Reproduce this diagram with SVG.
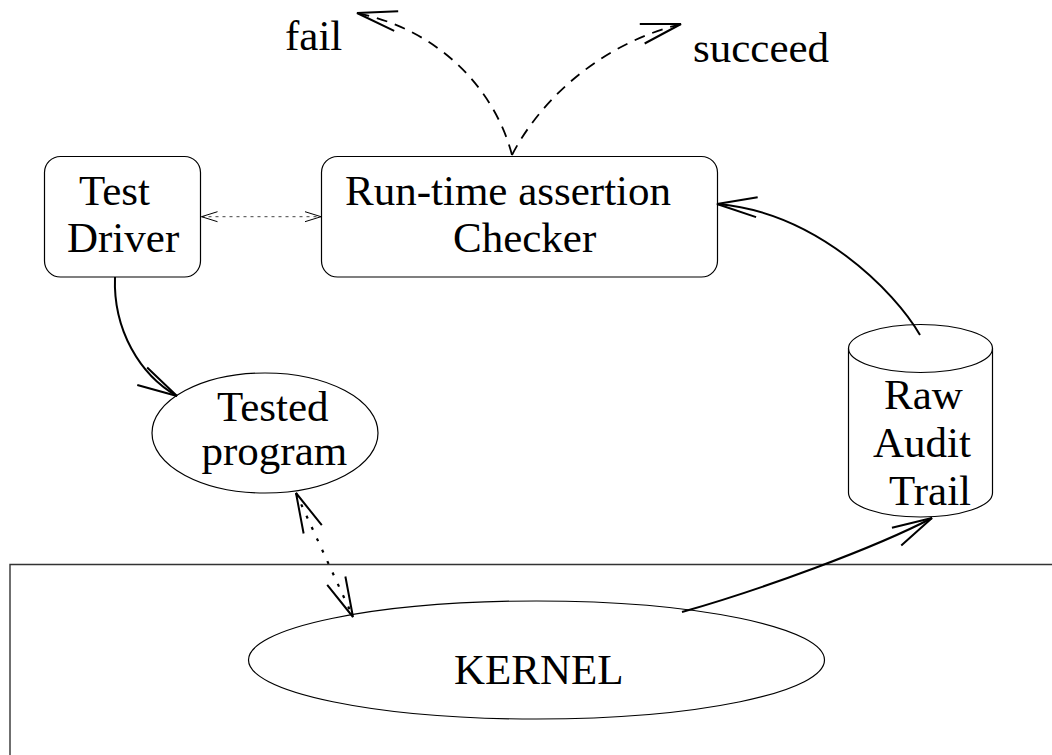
<svg xmlns="http://www.w3.org/2000/svg" width="1052" height="755" viewBox="0 0 1052 755">
  <style>
    .shape { fill: none; stroke: #000; stroke-width: 1.2; }
    .frame { fill: none; stroke: #333; stroke-width: 1.4; }
    .label { font-family: "Liberation Serif", "Times New Roman", serif; font-size: 43px; fill: #000; }
    .solid { fill: none; stroke: #000; stroke-width: 2; }
    .dashed { fill: none; stroke: #000; stroke-width: 1.8; stroke-dasharray: 11 8; }
    .dotted { fill: none; stroke: #000; stroke-width: 2.2; stroke-dasharray: 3 9.5; }
    .fine-dotted { fill: none; stroke: #444; stroke-width: 1; stroke-dasharray: 3 4; }
    .head { fill: none; stroke: #000; stroke-dasharray: none; }
  </style>
  <defs>
    <marker id="open-big" markerUnits="userSpaceOnUse" orient="auto-start-reverse" refX="0" refY="0" markerWidth="1" markerHeight="1" style="overflow:visible">
      <path class="head" stroke-width="2" d="M-40,-10 L0,0 L-40,10"/>
    </marker>
    <marker id="open-small" markerUnits="userSpaceOnUse" orient="auto-start-reverse" refX="0" refY="0" markerWidth="1" markerHeight="1" style="overflow:visible">
      <path class="head" stroke="#444" stroke-width="1" d="M-16,-5 L0,0 L-16,5"/>
    </marker>
  </defs>

  <!-- kernel space frame, open to the right and bottom -->
  <path class="frame" d="M1060,564.5 H10 V760"/>

  <g id="test-driver">
    <rect class="shape" x="44.5" y="156.5" width="156" height="120.5" rx="16"/>
    <text class="label" x="79" y="205">Test</text>
    <text class="label" x="67" y="251.5">Driver</text>
  </g>

  <g id="checker">
    <rect class="shape" x="321.5" y="156.5" width="396" height="120.5" rx="16"/>
    <text class="label" x="345" y="205">Run-time assertion</text>
    <text class="label" x="453" y="251.5">Checker</text>
  </g>

  <g id="tested-program">
    <ellipse class="shape" cx="265" cy="433" rx="113" ry="60"/>
    <text class="label" x="217" y="420.5">Tested</text>
    <text class="label" x="201.5" y="465">program</text>
  </g>

  <g id="audit-trail">
    <ellipse class="shape" cx="920.5" cy="348.5" rx="72" ry="24"/>
    <path class="shape" d="M848.5,348.5 V493 A72,24 0 0 0 992.5,493 V348.5"/>
    <text class="label" x="884" y="409">Raw</text>
    <text class="label" x="873" y="456.5">Audit</text>
    <text class="label" x="889" y="505">Trail</text>
  </g>

  <g id="kernel">
    <ellipse class="shape" cx="536.5" cy="660" rx="288" ry="59"/>
    <text class="label" x="454" y="684">KERNEL</text>
  </g>

  <g id="fail">
    <text class="label" x="285" y="50">fail</text>
  </g>

  <g id="succeed">
    <text class="label" x="693" y="61.5">succeed</text>
  </g>

  <g id="connectors">
    <!-- checker outcomes -->
    <path class="dashed" d="M512,155 C495,90 440,30 357,13" marker-end="url(#open-big)"/>
    <path class="dashed" d="M512,155 C535,110 590,47 681,24" marker-end="url(#open-big)"/>
    <!-- driver <-> checker -->
    <path class="fine-dotted" d="M201.5,216.7 H321" marker-start="url(#open-small)" marker-end="url(#open-small)"/>
    <!-- driver starts the program -->
    <path class="solid" d="M115,277 C113,330 140,375 177,396" marker-end="url(#open-big)"/>
    <!-- program <-> kernel system calls -->
    <path class="dotted" d="M296,493 L353,617" marker-start="url(#open-big)" marker-end="url(#open-big)"/>
    <!-- kernel writes the audit trail -->
    <path class="solid" d="M682,612 C760,590 875,548 932,518" marker-end="url(#open-big)"/>
    <!-- audit trail read by the checker -->
    <path class="solid" d="M920,335 C895,291.5 816.7,212 717,204" marker-end="url(#open-big)"/>
  </g>
</svg>
